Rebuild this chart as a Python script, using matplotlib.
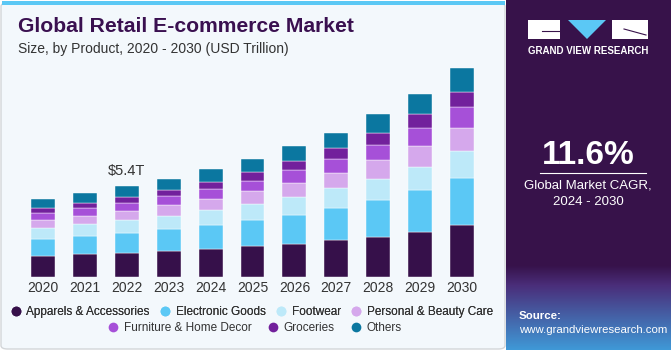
import matplotlib.pyplot as plt
import matplotlib.patches as patches
from matplotlib.lines import Line2D
import numpy as np

plt.rcParams['font.family'] = ['Liberation Sans', 'DejaVu Sans']

years = ['2020', '2021', '2022', '2023', '2024', '2025', '2026', '2027', '2028', '2029', '2030']
segments = ['Apparels & Accessories', 'Electronic Goods', 'Footwear', 'Personal & Beauty Care',
            'Furniture & Home Decor', 'Groceries', 'Others']
apparels = [1.25, 1.35, 1.43, 1.55, 1.67, 1.85, 1.96, 2.18, 2.40, 2.70, 3.11]
electronic = [1.01, 1.09, 1.21, 1.31, 1.43, 1.57, 1.73, 1.90, 2.20, 2.48, 2.80]
footwear = [0.65, 0.70, 0.76, 0.79, 0.89, 0.92, 1.09, 1.19, 1.25, 1.37, 1.59]
personal = [0.48, 0.51, 0.55, 0.62, 0.67, 0.77, 0.82, 0.91, 1.11, 1.23, 1.35]
furniture = [0.43, 0.44, 0.48, 0.55, 0.58, 0.63, 0.76, 0.82, 0.91, 1.07, 1.27]
groceries = [0.26, 0.33, 0.36, 0.38, 0.43, 0.52, 0.55, 0.69, 0.70, 0.83, 0.91]
others = [0.54, 0.58, 0.62, 0.65, 0.74, 0.79, 0.88, 0.89, 1.11, 1.19, 1.39]
colors = ['#36104A', '#5BC8F5', '#BDE9F9', '#D5A8EC', '#A650D8', '#72209C', '#0B77A0']

W, H = 671, 350
fig = plt.figure(figsize=(W / 100, H / 100), dpi=100)
fig.patch.set_facecolor('white')

def px(x, y, w, h):
    return (x / W, 1 - (y + h) / H, w / W, h / H)

# card background and top stripe
card = patches.FancyBboxPatch((1 / W, 1 / H), 504 / W, 346 / H,
                              boxstyle='round,pad=0,rounding_size=0.01',
                              transform=fig.transFigure, facecolor='#F3F8FC',
                              edgecolor='#D3D6D9', linewidth=1.0, zorder=-2)
fig.patches.append(card)
fig.patches.append(patches.Rectangle((2 / W, 1 - 5 / H), 503 / W, 4 / H,
                                     transform=fig.transFigure, facecolor='#5BC8F5',
                                     edgecolor='none', zorder=-1))

# right panel with gradient
pax = fig.add_axes(px(506, 0, 165, 350))
grad = np.zeros((350, 1, 3))
top_c = np.array([0x37, 0x12, 0x4A]) / 255
mid_c = np.array([0x4A, 0x2E, 0x7A]) / 255
bot_c = np.array([0x3F, 0x9A, 0xD8]) / 255
for i in range(350):
    if i < 265:
        grad[i, 0] = top_c
    elif i < 285:
        t = (i - 265) / 20
        grad[i, 0] = top_c * (1 - t) + mid_c * t
    else:
        t = (i - 285) / 65
        grad[i, 0] = mid_c * (1 - t) + bot_c * t
pax.imshow(grad, aspect='auto', extent=(0, 165, 350, 0))
pax.set_xlim(0, 165)
pax.set_ylim(350, 0)
pax.axis('off')

# logo
pax.add_patch(patches.Rectangle((22, 20), 32, 19, facecolor='white', edgecolor='none'))
pax.add_patch(patches.Polygon([(62, 20), (100, 20), (81, 39)], facecolor='#5BC8F5', edgecolor='none'))
pax.add_patch(patches.Rectangle((106, 20), 36, 19, facecolor='white', edgecolor='none'))
pax.plot([36, 53], [31, 31], color='#37124A', lw=0.8)
pax.plot([118, 140], [29, 35], color='#37124A', lw=0.8)
pax.text(82, 51, 'GRAND VIEW RESEARCH', color='white', fontsize=7, fontweight='bold',
         ha='center', va='center')
pax.text(82, 156, '11.6%', color='white', fontsize=24, fontweight='bold', ha='center', va='center')
pax.plot([34, 140], [173, 173], color='white', lw=0.8)
pax.text(82, 186, 'Global Market CAGR,', color='white', fontsize=9.5, ha='center', va='center')
pax.text(82, 202, '2024 - 2030', color='white', fontsize=9.5, ha='center', va='center')
pax.text(13, 316, 'Source:', color='white', fontsize=8.2, fontweight='bold', ha='left', va='center')
pax.text(13, 330, 'www.grandviewresearch.com', color='white', fontsize=8.2, ha='left', va='center')

# titles
fig.text(18 / W, 1 - 27 / H, 'Global Retail E-commerce Market', fontsize=15.2,
         fontweight='heavy', color='#3A1050', ha='left', va='center')
fig.text(18 / W, 1 - 49 / H, 'Size, by Product, 2020 - 2030 (USD Trillion)', fontsize=10,
         color='#333333', ha='left', va='center')

# bars
ax = fig.add_axes(px(18, 58.6, 469, 218.4))
ax.set_zorder(2)
ax.set_facecolor('none')
series = [apparels, electronic, footwear, personal, furniture, groceries, others]
x = np.arange(len(years))
bottom = np.zeros(len(years))
for name, vals, c in zip(segments, series, colors):
    ax.bar(x, vals, 0.57, bottom=bottom, color=c, label=name,
           edgecolor='#FFFFFF', linewidth=0.3)
    bottom += np.array(vals)
ax.set_xlim(-0.6, 10.6)
ax.set_ylim(0, 13)
ax.set_xticks(x)
ax.set_xticklabels(years, fontsize=10, color='#333333')
ax.tick_params(axis='x', length=0, pad=3)
ax.set_yticks([])
for s in ax.spines.values():
    s.set_visible(False)
ax.text(2, bottom[2] + 0.5, '$5.4T', ha='center', va='bottom', fontsize=10.5, color='#333333')

# legend in two rows
handles = [Line2D([], [], marker='o', linestyle='none', markersize=7,
                  markerfacecolor=c, markeredgecolor='none') for c in colors]
leg1 = fig.legend(handles[:4], segments[:4], loc='center', bbox_to_anchor=(252 / W, 1 - 312 / H),
                  ncol=4, frameon=False, fontsize=8.5, handlelength=0.8, handletextpad=0.5,
                  columnspacing=0.9, labelcolor='#333333', borderpad=0, borderaxespad=0)
fig.add_artist(leg1)
fig.legend(handles[4:], segments[4:], loc='center', bbox_to_anchor=(255 / W, 1 - 328 / H),
           ncol=3, frameon=False, fontsize=8.5, handlelength=0.8, handletextpad=0.5,
           columnspacing=1.4, labelcolor='#333333', borderpad=0, borderaxespad=0)

fig.savefig('out.png', dpi=100)
